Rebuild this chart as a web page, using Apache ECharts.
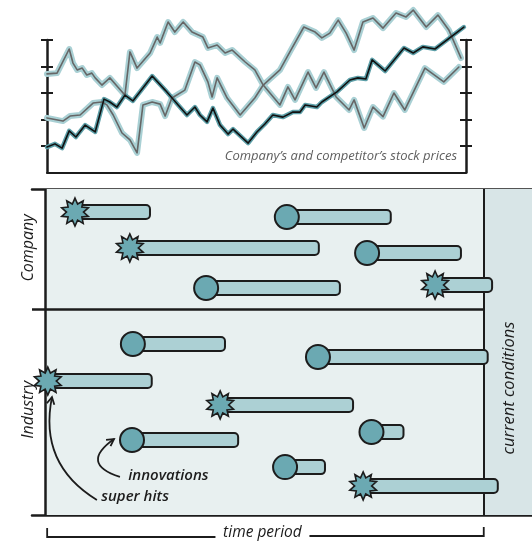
<!DOCTYPE html>
<html>
<head>
<meta charset="utf-8">
<script src="https://cdn.jsdelivr.net/npm/echarts@6/dist/echarts.min.js"></script>
<style>
html, body { margin: 0; padding: 0; background: #fff; }
#chart { width: 532px; height: 542px; }
</style>
</head>
<body>
<div id="chart"></div>
<script>
// stock prices, [week, price]
var competitorA = [[0,37.2],[2.4,37.5],[5.3,46.6],[6.2,41.3],[7.2,38.7],[8.4,39.4],[9.5,36.8],[10.7,37.5],[11.5,35.7],[13.1,33.0],[15.0,35.7],[16.9,32.3],[18.6,29.2],[19.8,45.5],[21.5,39.4],[24.6,45.1],[26.3,51.1],[27.0,48.9],[28.9,56.8],[30.5,53.0],[32.5,56.8],[34.6,53.0],[37.2,51.1],[38.4,47.0],[40.6,48.1],[42.5,45.1],[44.2,46.2],[47.3,41.7],[49.6,38.7],[51.6,33.0],[55.6,25.5],[57.5,32.3],[59.2,27.4],[62.3,37.9],[64.2,31.9],[66.1,37.9],[69.0,28.5],[72.1,23.6],[73.3,27.4],[75.7,16.8],[77.8,24.7],[80.2,21.1],[82.8,30.0],[85.4,23.6],[90.2,39.4],[94.7,34.2],[98.3,39.8]];
var competitorB = [[0,20.6],[3.8,19.4],[5.5,21.3],[7.9,21.7],[11.0,26.2],[13.1,26.6],[14.3,25.5],[15.8,21.7],[17.9,14.9],[19.8,12.3],[21.5,7.4],[22.9,25.5],[25.1,26.6],[27.0,25.8],[28.2,21.3],[29.8,28.1],[32.9,31.1],[35.3,41.7],[36.5,40.6],[38.4,34.2],[39.4,28.5],[40.6,35.7],[43.0,28.1],[46.1,21.7],[49.6,28.1],[51.6,33.0],[55.6,38.7],[58.2,46.2],[61.3,54.9],[64.0,53.0],[65.6,50.8],[67.5,52.6],[69.5,57.5],[71.4,52.6],[73.3,46.2],[75.4,56.8],[77.8,58.3],[80.2,54.5],[83.3,60.2],[85.7,58.7],[87.4,61.3],[90.5,54.9],[93.3,59.4],[95.9,53.8],[98.8,43.2]];
var companyPrice = [[0,9.6],[1.9,10.8],[3.6,9.2],[5.3,15.7],[6.9,13.4],[9.1,17.9],[11.5,15.3],[13.6,27.7],[15.0,26.6],[16.7,24.7],[18.6,29.2],[20.5,27.0],[25.1,36.4],[28.2,31.1],[31.3,25.5],[33.4,21.7],[35.3,24.7],[36.5,21.7],[38.2,19.1],[39.6,24.3],[41.3,17.9],[43.2,14.5],[44.4,16.4],[48.0,11.1],[50.1,15.3],[52.0,18.3],[53.9,21.7],[56.3,20.9],[58.7,22.8],[60.4,22.8],[61.6,25.5],[64.4,24.7],[65.6,26.6],[69.2,30.4],[72.3,34.9],[74.2,35.7],[76.1,35.3],[77.6,42.5],[80.7,38.3],[85.2,47.0],[87.4,45.1],[89.7,47.4],[92.6,46.6],[99.5,54.9]];
var priceTicks = [10, 20, 30, 40, 50];
var priceTitle = 'Company\u2019s and competitor\u2019s stock prices';

// innovations on the time line
var innovStart = [6.8, 19.3, 55.1, 73.4, 36.7, 88.9, 20.0, 62.2, 0.6, 39.9, 19.8, 74.4, 54.7, 72.5];
var innovEnd   = [23.9, 62.4, 78.8, 94.8, 67.2, 101.9, 41.0, 100.9, 24.3, 70.2, 44.0, 81.7, 63.8, 103.2];
var innovLane  = [12.08, 10.65, 11.88, 10.45, 9.05, 9.17, 6.82, 6.30, 5.34, 4.39, 2.99, 3.31, 1.91, 1.16];
var innovKind  = ['hit', 'hit', 'innov', 'innov', 'innov', 'hit', 'innov', 'innov', 'hit', 'hit', 'innov', 'innov', 'innov', 'hit'];
var sectionSplit = 8.2;
var sectionNames = ['Company', 'Industry'];
var sectionCenters = [10.65, 4.19];
var nowEnd = 100;

// annotation arrows: label end -> marker end, [week, lane]
var arrowFrom = [[17.05, 1.52], [11.8, 0.6]];
var arrowTo = [[15.7, 3.03], [1.55, 4.7]];
var arrowBend = [1.0, 0.35];

var ink = '#1c1c1c';
var barFill = '#acd0d4';
var dotFill = '#6ba9b2';
var font = 'Open Sans';

var chart = echarts.init(document.getElementById('chart'));

function starPoints(cx, cy, ro, ri, n) {
    var pts = [];
    for (var i = 0; i < n * 2; i++) {
        var r = i % 2 === 0 ? ro : ri;
        var a = Math.PI * i / n - Math.PI / 2;
        pts.push([cx + r * Math.cos(a), cy + r * Math.sin(a)]);
    }
    return pts;
}

function renderInnovation(params, api) {
    var s = api.coord([api.value(0), api.value(2)]);
    var e = api.coord([api.value(1), api.value(2)]);
    var h = 14;
    var marker;
    if (api.value(3) === 1) {
        marker = {
            type: 'polygon',
            shape: { points: starPoints(s[0], s[1], 14, 8.5, 10) },
            style: { fill: dotFill, stroke: ink, lineWidth: 1.6 }
        };
    } else {
        marker = {
            type: 'circle',
            shape: { cx: s[0], cy: s[1], r: 12 },
            style: { fill: dotFill, stroke: ink, lineWidth: 2 }
        };
    }
    return {
        type: 'group',
        children: [{
            type: 'rect',
            shape: { x: s[0], y: s[1] - h / 2, width: e[0] - s[0], height: h, r: [0, 4, 4, 0] },
            style: { fill: barFill, stroke: ink, lineWidth: 2 }
        }, marker]
    };
}

var innovData = innovStart.map(function (s, i) {
    return [s, innovEnd[i], innovLane[i], innovKind[i] === 'hit' ? 1 : 0];
});

function priceAxis(position, inside, showLine) {
    return {
        gridIndex: 0,
        type: 'value',
        position: position,
        min: 0,
        max: 50,
        interval: 10,
        axisLine: { show: showLine, lineStyle: { color: ink, width: 2.5 } },
        axisTick: { show: true, inside: inside, length: 6, customValues: priceTicks, lineStyle: { color: ink, width: 2 } },
        axisLabel: { show: false },
        splitLine: { show: false }
    };
}

function priceLine(data, halo, haloWidth, core) {
    var common = { type: 'line', xAxisIndex: 0, yAxisIndex: 0, data: data, symbol: 'none', clip: false, silent: true, animation: false };
    return [
        Object.assign({}, common, { z: 2, lineStyle: { color: halo, width: haloWidth, cap: 'round', join: 'round' } }),
        Object.assign({}, common, { z: 3, lineStyle: { color: core, width: 1.6, cap: 'round', join: 'round' } })
    ];
}

var labelStyle = { fontFamily: font, fontStyle: 'italic', fontSize: 15, color: ink };

var option = {
    animation: false,
    title: {
        text: priceTitle,
        right: 75,
        top: 150,
        padding: 0,
        textStyle: { fontFamily: font, fontStyle: 'italic', fontWeight: 'normal', fontSize: 13, color: '#5e5e5e' }
    },
    grid: [
        { left: 47, right: 66, top: 40, bottom: 369.5 },
        { left: 32, right: 0, top: 189, bottom: 27 }
    ],
    xAxis: [
        { gridIndex: 0, type: 'value', min: 0, max: 100, axisLine: { lineStyle: { color: ink, width: 2 } }, axisTick: { show: false }, axisLabel: { show: false }, splitLine: { show: false } },
        { gridIndex: 1, type: 'value', min: -3, max: 111, axisLine: { lineStyle: { color: ink, width: 2.5 } }, axisTick: { show: false }, axisLabel: { show: false }, splitLine: { show: false } },
        { gridIndex: 1, type: 'value', position: 'top', min: -3, max: 111, axisLine: { lineStyle: { color: ink, width: 2.5 } }, axisTick: { show: false }, axisLabel: { show: false }, splitLine: { show: false } }
    ],
    yAxis: [
        priceAxis('left', false, true),
        priceAxis('left', true, false),
        priceAxis('right', false, true),
        priceAxis('right', true, false),
        { gridIndex: 1, type: 'value', min: 0, max: 13, show: false }
    ],
    series: [].concat(
        priceLine(competitorA, '#a9d0d4', 6, '#666'),
        priceLine(competitorB, '#a9d0d4', 6, '#666'),
        priceLine(companyPrice, '#5d9fa8', 4.5, '#111'),
        [{
            type: 'custom',
            xAxisIndex: 1,
            yAxisIndex: 4,
            z: 5,
            silent: true,
            renderItem: renderInnovation,
            data: innovData,
            markArea: {
                silent: true,
                data: [
                    [{ xAxis: 0, itemStyle: { color: '#e8f0f0' } }, { xAxis: nowEnd }],
                    [{ xAxis: nowEnd, itemStyle: { color: '#d8e5e7' } }, { xAxis: 111 }]
                ]
            },
            markLine: {
                silent: true,
                symbol: 'none',
                label: { show: false },
                lineStyle: { color: ink, width: 2.5, type: 'solid' },
                data: [
                    { xAxis: 0 },
                    { xAxis: nowEnd, lineStyle: { width: 2 } },
                    [{ coord: [-3, sectionSplit] }, { coord: [nowEnd, sectionSplit] }]
                ]
            },
            markPoint: {
                silent: true,
                symbol: 'circle',
                symbolSize: 1,
                itemStyle: { color: 'rgba(0,0,0,0)' },
                label: Object.assign({ show: true, position: 'inside', formatter: '{b}' }, labelStyle),
                data: [
                    { name: 'current conditions', coord: [105.8, 5.06], label: { rotate: 90, fontSize: 16.5 } },
                    { name: 'innovations', coord: [28.1, 1.56], label: { fontWeight: 600 } },
                    { name: 'super hits', coord: [20.5, 0.72], label: { fontWeight: 600 } }
                ]
            }
        }]
    )
};

chart.setOption(option);

// decorations placed from the timeline scale
var toPx = function (v) { return chart.convertToPixel({ xAxisIndex: 1, yAxisIndex: 4 }, v); };
var graphics = [];

// section labels on the left
sectionNames.forEach(function (name, i) {
    var p = toPx([0, sectionCenters[i]]);
    graphics.push({
        type: 'text', x: p[0] - 17, y: p[1], rotation: Math.PI / 2,
        style: { text: name, align: 'center', verticalAlign: 'middle', font: 'italic 16px "Open Sans"', fill: ink }
    });
});

// curved arrows from the labels to the markers
arrowFrom.forEach(function (f, i) {
    var a = toPx(f), b = toPx(arrowTo[i]), c = arrowBend[i];
    var cp = [(a[0] + b[0]) / 2 - (a[1] - b[1]) * c, (a[1] + b[1]) / 2 - (b[0] - a[0]) * c];
    var dx = cp[0] - b[0], dy = cp[1] - b[1], len = Math.sqrt(dx * dx + dy * dy);
    dx /= len; dy /= len;
    var head = [0.5, -0.5].map(function (t) {
        return [b[0] + 8 * (dx * Math.cos(t) - dy * Math.sin(t)), b[1] + 8 * (dx * Math.sin(t) + dy * Math.cos(t))];
    });
    graphics.push({
        type: 'bezierCurve', shape: { x1: a[0], y1: a[1], x2: b[0], y2: b[1], cpx1: cp[0], cpy1: cp[1] },
        style: { stroke: ink, lineWidth: 1.8, fill: null }, z: 10
    });
    graphics.push({
        type: 'polyline', shape: { points: [head[0], b, head[1]] },
        style: { stroke: ink, lineWidth: 1.8, fill: null, lineJoin: 'miter' }, z: 10
    });
});

// "time period" bracket under the timeline
var p0 = toPx([0, 0]);
var p1 = toPx([nowEnd, 0]);
var mid = (p0[0] + p1[0]) / 2;
var yb = p0[1] + 22;
graphics.push(
    { type: 'polyline', shape: { points: [[p0[0] + 2, yb - 9], [p0[0] + 2, yb], [mid - 49, yb]] }, style: { stroke: ink, lineWidth: 1.8, fill: null } },
    { type: 'polyline', shape: { points: [[mid + 45, yb - 1], [p1[0], yb - 1], [p1[0], yb - 10]] }, style: { stroke: ink, lineWidth: 1.8, fill: null } },
    { type: 'text', x: mid - 2, y: yb - 4, style: { text: 'time period', align: 'center', verticalAlign: 'middle', font: 'italic 15.5px "Open Sans"', fill: ink } }
);

chart.setOption({ graphic: graphics });
</script>
</body>
</html>
